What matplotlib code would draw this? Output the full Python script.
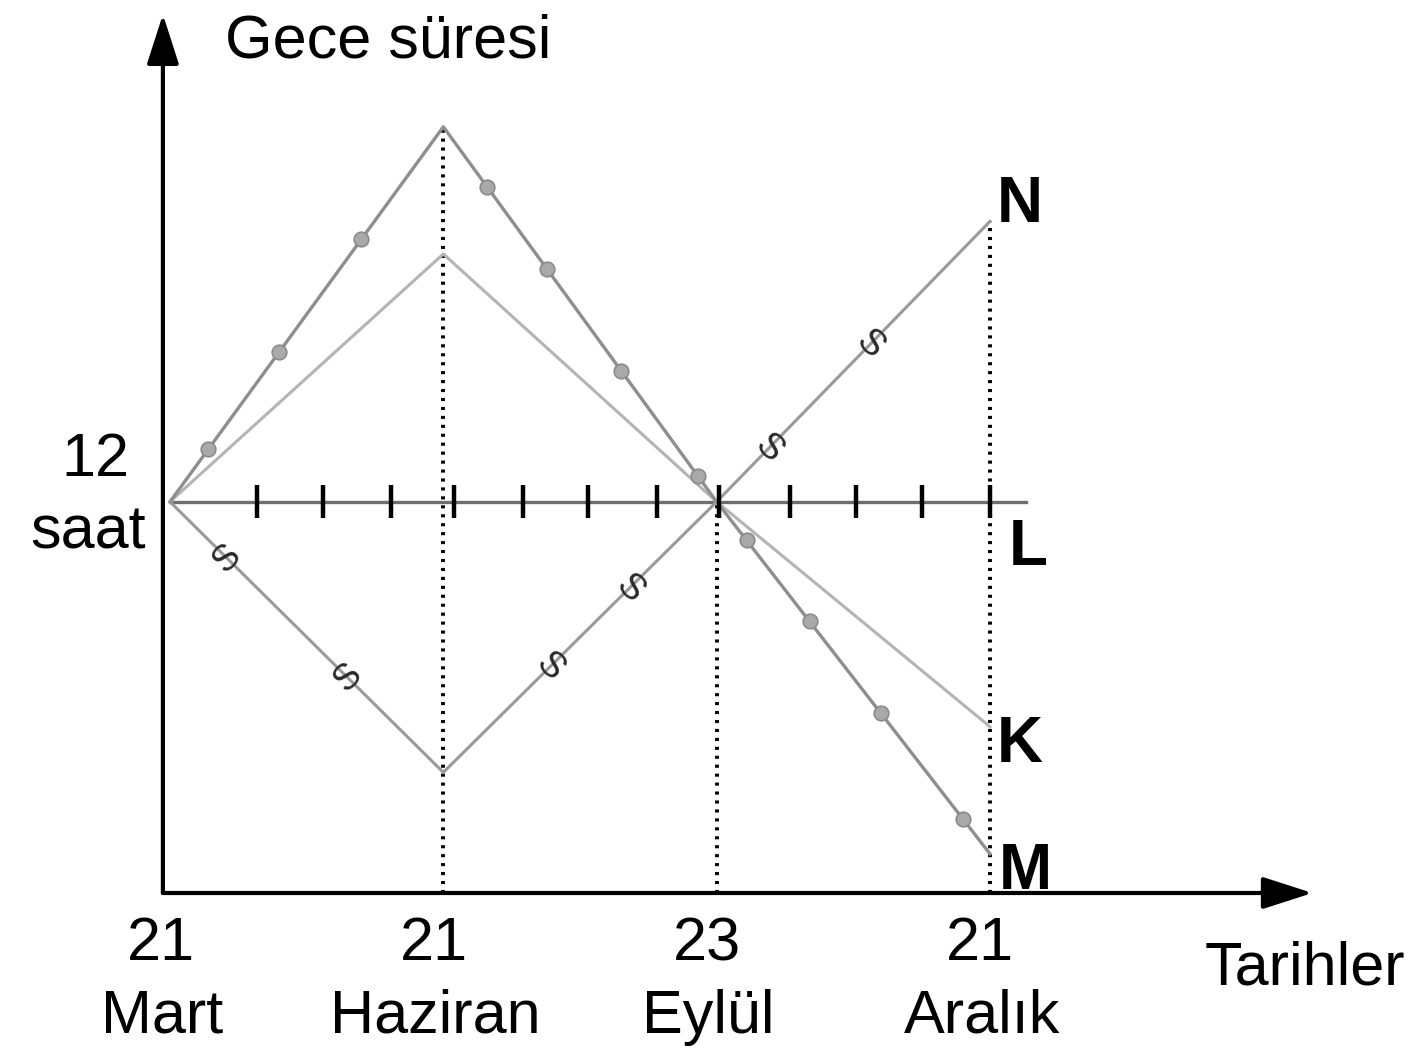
import matplotlib
matplotlib.use("Agg")
import matplotlib.pyplot as plt
import numpy as np

# Dates (index positions on the time axis)
date_days = ["21", "21", "23", "21"]
date_months = ["Mart", "Haziran", "Eylül", "Aralık"]
date_pos = [0, 1, 2, 3]

# Night length (hours) for the four places
night_M = [12, 23.5, 12, 1.2]
night_K = [12, 19.6, 12, 5.1]
night_N = [12, 3.7, 12, 20.6]
night_L = [12, 12, 12, 12]

# Small tick marks drawn on the equator line (L)
l_ticks = [0.32, 0.56, 0.81, 1.04, 1.29, 1.53, 1.78, 2.01, 2.27, 2.51, 2.75, 3.0]

# Where the decorative symbols sit along each segment (fraction of segment)
m_dot_fracs = [[0.14, 0.40, 0.70], [0.16, 0.38, 0.65, 0.93], [0.11, 0.34, 0.60, 0.90]]
n_sym_fracs = [[0.21, 0.65], [0.39, 0.68], [0.19, 0.56]]

plt.rcParams["font.family"] = ["Liberation Sans", "DejaVu Sans"]

fig = plt.figure(figsize=(14.15, 10.61), dpi=100)
ax = fig.add_axes([0, 0, 1, 1])
ax.set_xlim(-0.622, 4.555)
ax.set_ylim(-5.153, 27.39)
ax.axis("off")


def along(xs, ys, fracs_per_seg):
    px, py = [], []
    for i, fr in enumerate(fracs_per_seg):
        for f in fr:
            px.append(xs[i] + f * (xs[i + 1] - xs[i]))
            py.append(ys[i] + f * (ys[i + 1] - ys[i]))
    return px, py


# Axes with arrows
x_axis_y = 0
y_axis_x = -0.026
arrow_style = dict(arrowstyle="-|>,head_length=1.4,head_width=0.45",
                   lw=3, color="black", shrinkA=0, shrinkB=0, mutation_scale=22)
ax.annotate("", xy=(y_axis_x, 26.95), xytext=(y_axis_x, x_axis_y),
            arrowprops=arrow_style)
ax.annotate("", xy=(4.18, x_axis_y), xytext=(y_axis_x, x_axis_y),
            arrowprops=arrow_style)

# Dotted guide lines
dot = (0, (0.8, 1.5))
ax.plot([date_pos[1], date_pos[1]], [x_axis_y, night_M[1]], color="black",
        lw=2.8, linestyle=dot, zorder=2)
ax.plot([date_pos[2], date_pos[2]], [x_axis_y, night_L[2]], color="black",
        lw=2.8, linestyle=dot, zorder=2)
ax.plot([date_pos[3], date_pos[3]], [x_axis_y, night_N[3]], color="black",
        lw=2.8, linestyle=dot, zorder=2)

# L line (equator) with ticks
ax.plot([date_pos[0], 3.13], [night_L[0], night_L[-1]], color="#6e6e6e",
        lw=2.4, zorder=3)
for t in l_ticks:
    ax.plot([t, t], [12 - 0.5, 12 + 0.5], color="black", lw=3.2,
            solid_capstyle="butt", zorder=4)

# K line
ax.plot(date_pos, night_K, color="#b4b4b4", lw=2.2, zorder=3)

# M line with dot markers
ax.plot(date_pos, night_M, color="#8e8e8e", lw=2.4, zorder=3)
mx, my = along(date_pos, night_M, m_dot_fracs)
ax.plot(mx, my, linestyle="none", marker="o", markersize=10.5,
        markerfacecolor="#a9a9a9", markeredgecolor="#8a8a8a",
        markeredgewidth=1.2, zorder=5)

# N line with S-shaped symbols
ax.plot(date_pos, night_N, color="#9a9a9a", lw=2.2, zorder=3)
fig.canvas.draw()
for i, fr in enumerate(n_sym_fracs):
    p0 = ax.transData.transform((date_pos[i], night_N[i]))
    p1 = ax.transData.transform((date_pos[i + 1], night_N[i + 1]))
    ang = np.degrees(np.arctan2(p1[1] - p0[1], p1[0] - p0[0])) - 90
    if ang <= -90:
        ang += 180
    for f in fr:
        sx = date_pos[i] + f * (date_pos[i + 1] - date_pos[i])
        sy = night_N[i] + f * (night_N[i + 1] - night_N[i])
        ax.text(sx, sy, "S", fontsize=26, color="#2a2a2a", rotation=ang,
                rotation_mode="anchor", ha="center", va="center", zorder=6)

# Text labels
big = 44
ax.text(0.201, 26.1, "Gece süresi", fontsize=big, ha="left", va="center")
ax.text(-0.274, 13.28, "12", fontsize=big, ha="center", va="center")
ax.text(-0.30, 11.04, "saat", fontsize=big, ha="center", va="center")
for p, d, m in zip(date_pos, date_days, date_months):
    ax.text(p - 0.035, -2.06, d, fontsize=big, ha="center", va="baseline")
    ax.text(p - 0.03, -4.29, m, fontsize=big, ha="center", va="baseline")
ax.text(4.153, -2.82, "Tarihler", fontsize=big, ha="center", va="baseline")

lab = 46
ax.text(3.11, 21.1, "N", fontsize=lab, fontweight="bold", ha="center", va="center")
ax.text(3.14, 10.58, "L", fontsize=lab, fontweight="bold", ha="center", va="center")
ax.text(3.11, 4.54, "K", fontsize=lab, fontweight="bold", ha="center", va="center")
ax.text(3.13, 0.64, "M", fontsize=lab, fontweight="bold", ha="center", va="center")

fig.savefig("out.png", dpi=100, facecolor="white")
